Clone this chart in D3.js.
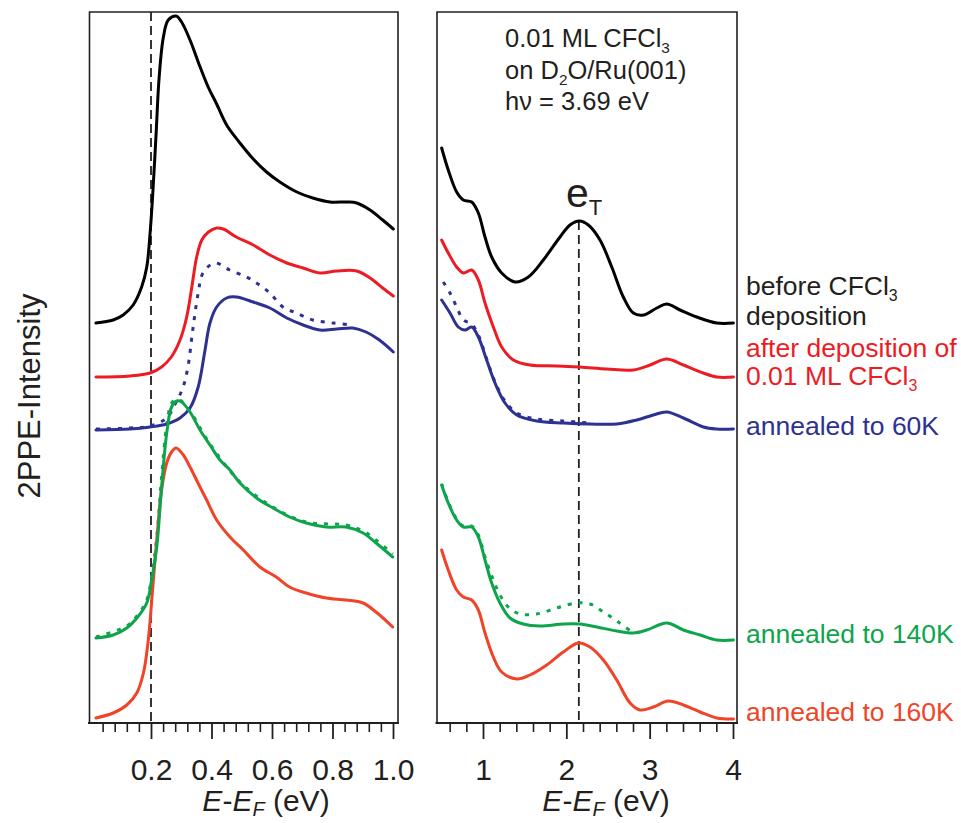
<!DOCTYPE html>
<html><head><meta charset="utf-8">
<script src="https://cdn.jsdelivr.net/npm/d3@7"></script>
<style>
body{margin:0;background:#fff}
svg{display:block}
text{font-family:"Liberation Sans",Arial,Helvetica,sans-serif;fill:#231f20}
</style>
</head><body>
<svg id="chart" width="961" height="823"></svg>
<script>
// ---------- DATA (x in eV, intensity in arbitrary units, offset traces) ----------
const leftTicks = [0.2, 0.4, 0.6, 0.8, 1.0];
const leftTickLabels = ["0.2", "0.4", "0.6", "0.8", "1.0"];
const rightTicks = [1, 2, 3, 4];
const rightTickLabels = ["1", "2", "3", "4"];
const fermiMark = 0.2;
const eTPeak = 2.15;

const leftBlack = [[0.018,400],[0.075,403],[0.108,408],[0.141,418],[0.169,436],[0.186,456],[0.197,490],[0.206,530],[0.217,590],[0.227,646],[0.241,686],[0.257,703],[0.283,707],[0.301,701],[0.329,683],[0.356,661],[0.389,636],[0.417,619],[0.450,598],[0.494,580],[0.538,564],[0.582,551],[0.626,541],[0.682,531],[0.735,525],[0.792,521],[0.847,521],[0.880,520],[0.924,513],[0.966,503],[1.001,494]];
const leftRed = [[0.018,346],[0.131,347],[0.197,350],[0.235,356],[0.267,366],[0.296,383],[0.318,406],[0.335,436],[0.351,466],[0.368,483],[0.390,491],[0.417,495],[0.439,494],[0.482,486],[0.538,478],[0.593,468],[0.649,460],[0.703,455],[0.758,450],[0.814,452],[0.880,452],[0.924,445],[0.966,435],[1.001,427]];
const leftBlue = [[0.018,293],[0.131,294],[0.197,296],[0.252,299],[0.296,305],[0.329,315],[0.356,336],[0.377,370],[0.395,400],[0.417,416],[0.450,425],[0.482,426],[0.538,421],[0.593,415],[0.649,405],[0.703,398],[0.758,393],[0.814,394],[0.867,395],[0.911,391],[0.955,383],[1.001,371]];
const leftBlueDotted = [[0.018,294],[0.131,295],[0.197,297],[0.252,305],[0.278,318],[0.305,335],[0.322,356],[0.338,393],[0.356,430],[0.372,450],[0.411,460],[0.460,453],[0.516,446],[0.549,440],[0.593,430],[0.636,416],[0.680,410],[0.735,403],[0.801,400],[0.867,398]];
const leftGreen = [[0.018,85],[0.075,88],[0.120,95],[0.156,106],[0.186,120],[0.202,143],[0.219,176],[0.235,236],[0.252,290],[0.268,316],[0.285,322],[0.301,321],[0.329,311],[0.362,293],[0.395,278],[0.428,263],[0.461,253],[0.494,240],[0.549,225],[0.603,215],[0.658,206],[0.713,200],[0.779,196],[0.845,196],[0.901,190],[0.944,180],[0.999,166]];
const leftGreenDotted = [[0.018,86],[0.120,97],[0.156,108],[0.186,123],[0.202,146],[0.219,186],[0.235,246],[0.252,298],[0.268,320],[0.285,324],[0.301,322],[0.329,312],[0.395,279],[0.494,241],[0.603,216],[0.713,201],[0.845,198],[0.901,192],[0.944,183],[0.999,169]];
const leftOrange = [[0.018,5],[0.075,10],[0.120,18],[0.153,30],[0.175,50],[0.191,83],[0.206,136],[0.219,183],[0.235,233],[0.252,260],[0.268,271],[0.283,275],[0.307,268],[0.329,256],[0.362,236],[0.384,223],[0.417,203],[0.461,186],[0.505,173],[0.560,156],[0.614,146],[0.658,136],[0.713,130],[0.779,125],[0.845,123],[0.901,120],[0.944,111],[0.999,96]];

const rightBlack = [[0.504,575],[0.583,553],[0.684,531],[0.764,523],[0.864,521],[0.944,510],[1.024,486],[1.104,466],[1.224,450],[1.384,441],[1.544,446],[1.724,463],[1.924,486],[2.044,498],[2.156,502],[2.264,498],[2.404,483],[2.545,456],[2.684,426],[2.804,410],[2.924,408],[3.085,415],[3.205,419],[3.365,413],[3.565,406],[3.805,400],[4.005,400]];
const rightRed = [[0.504,483],[0.583,470],[0.684,456],[0.764,450],[0.864,453],[0.944,443],[1.024,420],[1.124,396],[1.224,376],[1.364,363],[1.564,358],[1.885,357],[2.164,356],[2.485,354],[2.804,353],[3.005,358],[3.205,364],[3.405,358],[3.645,350],[3.806,346],[4.005,346]];
const rightBlue = [[0.504,423],[0.604,410],[0.703,396],[0.784,393],[0.864,396],[0.944,386],[1.044,363],[1.144,340],[1.264,320],[1.405,308],[1.645,302],[1.964,300],[2.284,299],[2.605,299],[2.845,303],[3.044,308],[3.205,311],[3.405,305],[3.645,296],[3.806,294],[4.005,294]];
const rightBlueDotted = [[0.523,441],[0.604,430],[0.684,416],[0.764,403],[0.864,399],[0.944,388],[1.044,364],[1.144,341],[1.264,322],[1.405,310],[1.645,304],[1.964,302],[2.284,300]];
const rightGreen = [[0.504,238],[0.583,220],[0.684,203],[0.764,196],[0.864,196],[0.944,186],[1.024,163],[1.104,140],[1.204,120],[1.324,105],[1.484,99],[1.684,97],[1.964,99],[2.164,99],[2.365,96],[2.605,92],[2.804,90],[2.965,93],[3.205,100],[3.405,93],[3.605,88],[3.806,83],[4.005,83]];
const rightGreenDotted = [[0.504,239],[0.583,221],[0.684,204],[0.764,197],[0.864,197],[0.944,188],[1.024,166],[1.124,143],[1.204,128],[1.304,116],[1.444,109],[1.645,109],[1.885,115],[2.125,120],[2.284,119],[2.444,111],[2.624,101],[2.785,91]];
const rightOrange = [[0.504,173],[0.583,153],[0.684,133],[0.764,126],[0.864,123],[0.944,113],[1.024,90],[1.124,66],[1.224,51],[1.405,44],[1.564,48],[1.765,58],[1.964,71],[2.144,80],[2.284,76],[2.444,63],[2.605,43],[2.765,20],[2.885,13],[3.044,16],[3.224,22],[3.405,18],[3.605,11],[3.806,5],[4.005,4]];

const seriesColors = {black:"#000000", red:"#ED1C24", blue:"#2E3192", green:"#0DA54B", orange:"#EF4427"};

// ---------- LAYOUT ----------
const svg = d3.select("#chart");
const yTop = 12, yBot = 723;
const y = d3.scaleLinear().domain([0, 711]).range([yBot, yTop]);
const xL = d3.scaleLinear().domain([0.2, 1.0]).range([151, 393]);
const xR = d3.scaleLinear().domain([1, 4]).range([483, 733]);
const panelL = {x0: 89.5, x1: 398};
const panelR = {x0: 437, x1: 737};
const ink = "#231f20";

function frame(p) {
  svg.append("path")
    .attr("d", `M${p.x0},${yBot}V${yTop}H${p.x1}V${yBot}`)
    .attr("fill","none").attr("stroke",ink).attr("stroke-width",1.6);
  svg.append("line").attr("x1",p.x0-1.5).attr("x2",p.x1+1).attr("y1",yBot).attr("y2",yBot)
    .attr("stroke",ink).attr("stroke-width",2);
}
frame(panelL); frame(panelR);

function axis(x, majors, labels, minors) {
  const gm = svg.append("g").attr("transform",`translate(0,${yBot})`)
    .call(d3.axisBottom(x).tickValues(minors).tickSize(9).tickFormat(""));
  gm.select(".domain").remove();
  gm.selectAll("line").attr("stroke",ink).attr("stroke-width",1.6);
  const g = svg.append("g").attr("transform",`translate(0,${yBot})`)
    .call(d3.axisBottom(x).tickValues(majors).tickSize(16).tickFormat((d,i)=>labels[i]));
  g.select(".domain").remove();
  g.selectAll("line").attr("stroke",ink).attr("stroke-width",1.8);
  g.selectAll("text").attr("y",57).attr("dy",0)
    .style("font-size","30px").style("font-family",'"Liberation Sans",Arial,sans-serif').attr("fill",ink);
}
axis(xL, leftTicks, leftTickLabels, d3.range(0.04, 1.001, 0.04).filter(v => Math.abs(v*5 - Math.round(v*5)) > 1e-6));
axis(xR, rightTicks, rightTickLabels, d3.range(0.6, 4.001, 0.2).filter(v => Math.abs(v - Math.round(v)) > 1e-6));

// axis titles
function xTitle(cx) {
  const t = svg.append("text").attr("x",cx).attr("y",811).attr("text-anchor","middle").style("font-size","30px");
  t.append("tspan").style("font-style","italic").text("E");
  t.append("tspan").text("-");
  t.append("tspan").style("font-style","italic").text("E");
  t.append("tspan").style("font-style","italic").style("font-size","20px").attr("dy",5).text("F");
  t.append("tspan").attr("dy",-5).text(" (eV)");
}
xTitle(266); xTitle(606);

svg.append("text").attr("transform","translate(40,396) rotate(-90)")
  .attr("text-anchor","middle").style("font-size","31px").text("2PPE-Intensity");

// dashed reference lines
svg.append("line").attr("x1",xL(fermiMark)).attr("x2",xL(fermiMark)).attr("y1",yTop).attr("y2",yBot)
  .attr("stroke",ink).attr("stroke-width",1.8).attr("stroke-dasharray","9,5");
svg.append("line").attr("x1",xR(eTPeak)).attr("x2",xR(eTPeak)).attr("y1",y(502)).attr("y2",yBot)
  .attr("stroke",ink).attr("stroke-width",1.8).attr("stroke-dasharray","9,5");

// curves
function curve(x, data, color, dotted) {
  const line = d3.line().x(d=>x(d[0])).y(d=>y(d[1])).curve(d3.curveCatmullRom.alpha(0.5));
  const p = svg.append("path").datum(data).attr("d",line).attr("fill","none")
    .attr("stroke",color).attr("stroke-width",3).attr("stroke-linejoin","round");
  if (dotted) p.attr("stroke-dasharray","4,7").attr("stroke-width",3);
  else p.attr("stroke-linecap","round");
}
curve(xL, leftBlueDotted, seriesColors.blue, true);
curve(xL, leftGreenDotted, seriesColors.green, true);
curve(xL, leftBlack, seriesColors.black);
curve(xL, leftRed, seriesColors.red);
curve(xL, leftBlue, seriesColors.blue);
curve(xL, leftOrange, seriesColors.orange);
curve(xL, leftGreen, seriesColors.green);

curve(xR, rightBlueDotted, seriesColors.blue, true);
curve(xR, rightGreenDotted, seriesColors.green, true);
curve(xR, rightBlack, seriesColors.black);
curve(xR, rightRed, seriesColors.red);
curve(xR, rightBlue, seriesColors.blue);
curve(xR, rightGreen, seriesColors.green);
curve(xR, rightOrange, seriesColors.orange);

// e_T label
const eT = svg.append("text").attr("x",566).attr("y",207).style("font-size","41px");
eT.append("tspan").text("e");
eT.append("tspan").style("font-size","22px").attr("dy",8).text("T");

// annotation
function subText(x, yb, parts, size, color) {
  const t = svg.append("text").attr("x",x).attr("y",yb).style("font-size",size+"px").style("fill",color);
  parts.forEach(p => {
    if (p.sub) t.append("tspan").style("font-size",(size*0.6)+"px").attr("dy",6).text(p.sub);
    else t.append("tspan").attr("dy", p.back ? -6 : 0).text(p.t);
  });
}
subText(505, 47, [{t:"0.01 ML CFCl"},{sub:"3"}], 25.5, ink);
subText(505, 79, [{t:"on D"},{sub:"2"},{t:"O/Ru(001)", back:true}], 25.5, ink);
subText(505, 110, [{t:"h\u03BD = 3.69 eV"}], 25.5, ink);

// legend labels
const legendX = 746;
subText(legendX, 295, [{t:"before CFCl"},{sub:"3"}], 26.5, ink);
subText(legendX, 325, [{t:"deposition"}], 26.5, ink);
subText(legendX, 357, [{t:"after deposition of"}], 26.5, seriesColors.red);
subText(legendX, 385, [{t:"0.01 ML CFCl"},{sub:"3"}], 26.5, seriesColors.red);
subText(legendX, 435, [{t:"annealed to 60K"}], 26.5, seriesColors.blue);
subText(legendX, 643, [{t:"annealed to 140K"}], 26.5, seriesColors.green);
subText(legendX, 721, [{t:"annealed to 160K"}], 26.5, seriesColors.orange);
</script>
</body></html>
